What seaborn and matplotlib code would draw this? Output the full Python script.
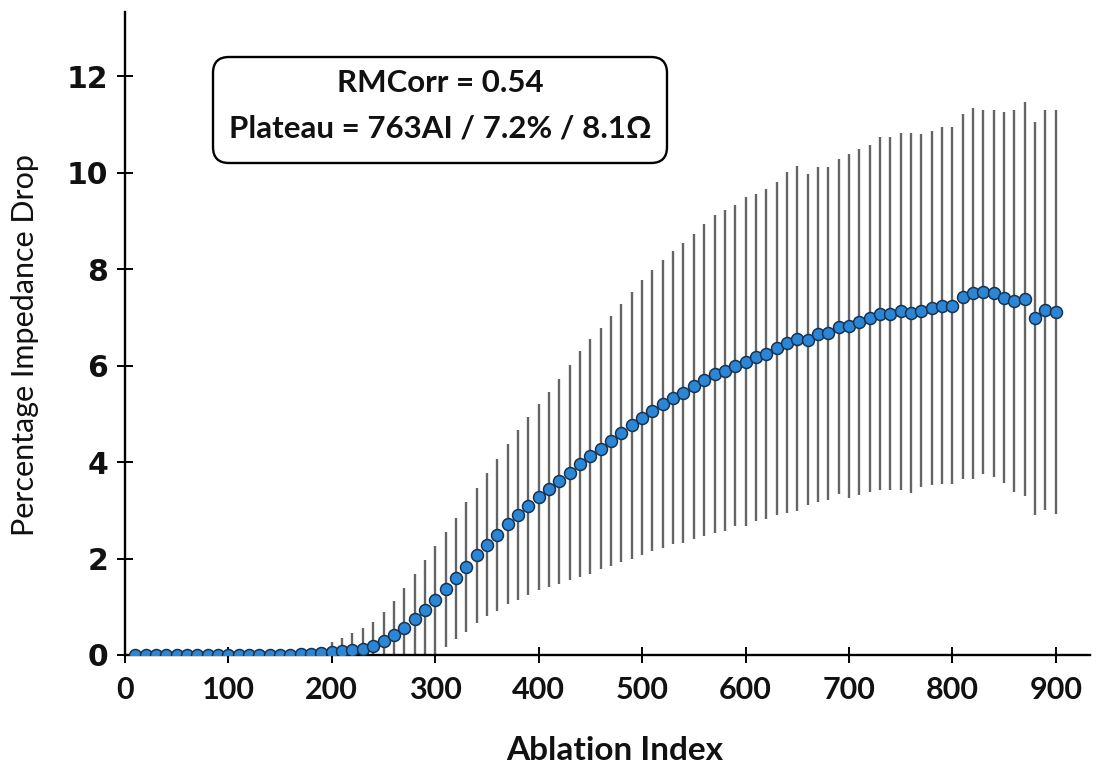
import numpy as np
import pandas as pd
import matplotlib
matplotlib.use("Agg")
import matplotlib.pyplot as plt
from matplotlib.patches import FancyBboxPatch
from matplotlib.transforms import IdentityTransform
import seaborn as sns

# Ablation index grid (one point every 10 AI)
ablation_index = np.arange(10, 910, 10)

# Mean percentage impedance drop at each ablation index
mean_drop = [
    0.00, 0.00, 0.00, 0.00, 0.00, 0.00, 0.00, 0.00, 0.00, 0.00,
    0.00, 0.00, 0.00, 0.00, 0.00, 0.01, 0.02, 0.03, 0.04, 0.06,
    0.08, 0.10, 0.13, 0.19, 0.28, 0.41, 0.57, 0.75, 0.93, 1.15,
    1.36, 1.59, 1.83, 2.07, 2.29, 2.49, 2.71, 2.90, 3.09, 3.27,
    3.44, 3.60, 3.78, 3.96, 4.12, 4.28, 4.44, 4.60, 4.76, 4.92,
    5.07, 5.21, 5.34, 5.44, 5.57, 5.70, 5.82, 5.90, 6.00, 6.08,
    6.17, 6.24, 6.36, 6.48, 6.56, 6.54, 6.65, 6.67, 6.81, 6.82,
    6.91, 6.98, 7.08, 7.08, 7.13, 7.09, 7.14, 7.20, 7.24, 7.24,
    7.43, 7.50, 7.53, 7.50, 7.41, 7.34, 7.38, 6.98, 7.16, 7.12,
]

# Standard deviation of the drop at each ablation index
sd_drop = [
    0.00, 0.00, 0.00, 0.00, 0.00, 0.00, 0.00, 0.00, 0.00, 0.00,
    0.00, 0.00, 0.00, 0.00, 0.00, 0.03, 0.05, 0.08, 0.13, 0.20,
    0.28, 0.35, 0.42, 0.49, 0.62, 0.70, 0.81, 0.94, 1.03, 1.12,
    1.20, 1.26, 1.35, 1.40, 1.49, 1.58, 1.66, 1.76, 1.85, 1.93,
    2.02, 2.13, 2.23, 2.34, 2.43, 2.50, 2.59, 2.67, 2.77, 2.85,
    2.92, 2.99, 3.03, 3.11, 3.16, 3.23, 3.30, 3.32, 3.33, 3.41,
    3.39, 3.43, 3.45, 3.54, 3.58, 3.43, 3.48, 3.45, 3.48, 3.56,
    3.59, 3.60, 3.66, 3.66, 3.70, 3.74, 3.66, 3.67, 3.70, 3.70,
    3.78, 3.85, 3.77, 3.81, 3.85, 3.96, 4.09, 4.07, 4.15, 4.19,
]

x_ticks = [0, 100, 200, 300, 400, 500, 600, 700, 800, 900]
y_ticks = [0, 2, 4, 6, 8, 10, 12]
annotation_lines = ["RMCorr = 0.54", "Plateau = 763AI / 7.2% / 8.1\u03a9"]

df = pd.DataFrame({"ai": ablation_index, "mean": mean_drop, "sd": sd_drop})

sns.set_theme(style="ticks")
plt.rcParams["font.family"] = ["Lato", "DejaVu Sans"]

fig = plt.figure(figsize=(10.96, 7.65), dpi=100)
ax = fig.add_axes([0.114, 0.1438, 0.8805, 0.8402])

# Vertical SD bars behind the markers
ax.errorbar(df["ai"], df["mean"], yerr=df["sd"], fmt="none",
            ecolor="#646464", elinewidth=1.7, capsize=0, zorder=2)

# Mean markers
sns.scatterplot(data=df, x="ai", y="mean", ax=ax, s=74,
                color="#2b87d6", edgecolor="#17324f", linewidth=1.1,
                zorder=3, legend=False)

ax.set_xlim(0, 933)
ax.set_ylim(0, 13.33)
ax.set_xticks(x_ticks)
ax.set_yticks(y_ticks)

for side in ("top", "right"):
    ax.spines[side].set_visible(False)
for side in ("left", "bottom"):
    ax.spines[side].set_linewidth(1.7)
    ax.spines[side].set_color("black")

ax.tick_params(axis="both", direction="inout", length=12, width=1.4,
               color="black")
ax.tick_params(axis="x", pad=9)
ax.tick_params(axis="y", pad=6)

for lbl in ax.get_xticklabels():
    lbl.set_fontfamily(["Lato", "DejaVu Sans"])
    lbl.set_fontweight("bold")
    lbl.set_fontsize(22)
    lbl.set_color("#111111")
for lbl in ax.get_yticklabels():
    lbl.set_fontfamily(["DejaVu Sans"])
    lbl.set_fontweight("bold")
    lbl.set_fontsize(21.5)
    lbl.set_color("#111111")

ax.set_xlabel("Ablation Index", fontsize=24, fontweight="bold", color="#111111")
ax.set_ylabel("Percentage Impedance Drop", fontsize=22, color="#111111")
ax.xaxis.set_label_coords(0.507, -0.149)
ax.xaxis.label.set_va("center")
ax.yaxis.set_label_coords(-0.1036, 0.482)
ax.yaxis.label.set_va("center")

# Rounded annotation box (pixel coordinates, origin bottom-left)
H = 765
box = FancyBboxPatch((213, H - 163), 454, 106,
                     boxstyle="round,pad=0,rounding_size=16",
                     transform=IdentityTransform(), facecolor="white",
                     edgecolor="black", linewidth=1.7, zorder=5)
fig.patches.append(box)
fig.text(440 / 1096, (H - 92) / H, annotation_lines[0], ha="center",
         va="baseline", fontsize=22.5, fontweight="bold", color="#111111",
         family=["Lato", "DejaVu Sans"], zorder=6)
fig.text(440 / 1096, (H - 137.5) / H, annotation_lines[1], ha="center",
         va="baseline", fontsize=22.5, fontweight="bold", color="#111111",
         family=["Lato", "DejaVu Sans"], zorder=6)

fig.savefig("out.png", dpi=100)
